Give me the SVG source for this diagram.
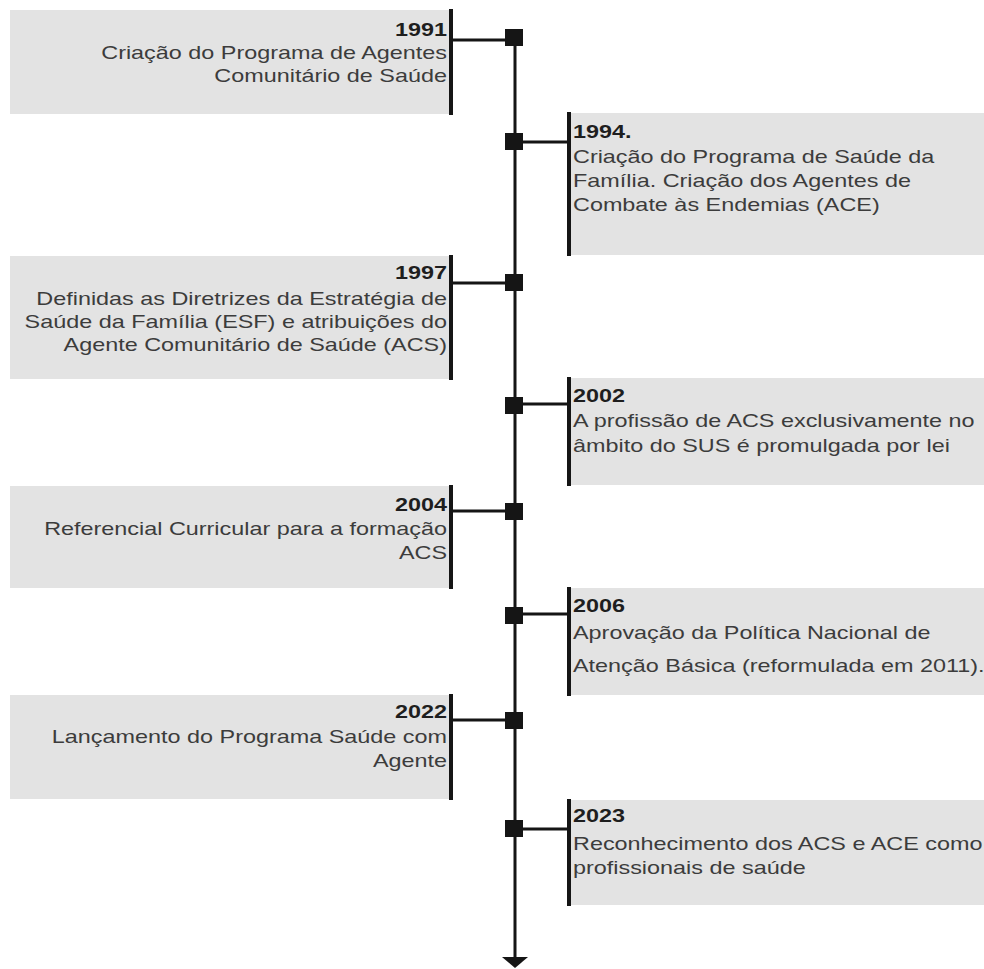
<svg xmlns="http://www.w3.org/2000/svg" width="984" height="969" viewBox="0 0 984 969">
<style>
.box{fill:#e3e3e3}
.bar{fill:#151515}
.conn{stroke:#151515;stroke-width:3;fill:none}
.mk{fill:#151515}
.yr{font-family:"Liberation Sans",Arial,sans-serif;font-size:18px;font-weight:bold;fill:#1e1e1e}
.tx{font-family:"Liberation Sans",Arial,sans-serif;font-size:18px;fill:#3c3c3c}
.l text{text-anchor:end}
</style>
<rect width="984" height="969" fill="#ffffff"/>
<g id="connectors">
<line class="conn" x1="515" y1="30" x2="515" y2="958"/>
<polygon class="mk" points="502,957 528,957 515,968"/>
<line class="conn" x1="451" y1="40" x2="514" y2="40"/>
<line class="conn" x1="514" y1="142" x2="569" y2="142"/>
<line class="conn" x1="451" y1="283" x2="514" y2="283"/>
<line class="conn" x1="514" y1="404" x2="569" y2="404"/>
<line class="conn" x1="451" y1="511" x2="514" y2="511"/>
<line class="conn" x1="514" y1="614" x2="569" y2="614"/>
<line class="conn" x1="451" y1="720" x2="514" y2="720"/>
<line class="conn" x1="514" y1="829" x2="569" y2="829"/>
</g>
<g id="n1991" class="l">
<rect class="box" x="10" y="10" width="441" height="104"/>
<rect class="bar" x="449" y="9" width="4" height="106"/>
<rect class="mk" x="505" y="29" width="18" height="17"/>
<g transform="translate(447,0) scale(1.3,1)">
<text class="yr" x="0" y="36">1991</text>
<text class="tx" x="0" y="59">Criação do Programa de Agentes</text>
<text class="tx" x="0" y="82">Comunitário de Saúde</text>
</g>
</g>
<g id="n1994">
<rect class="box" x="569" y="113" width="415" height="142"/>
<rect class="bar" x="567" y="112" width="4" height="144"/>
<rect class="mk" x="505" y="133" width="18" height="17"/>
<g transform="translate(573,0) scale(1.3,1)">
<text class="yr" x="0" y="138">1994.</text>
<text class="tx" x="0" y="163">Criação do Programa de Saúde da</text>
<text class="tx" x="0" y="187">Família. Criação dos Agentes de</text>
<text class="tx" x="0" y="211">Combate às Endemias (ACE)</text>
</g>
</g>
<g id="n1997" class="l">
<rect class="box" x="10" y="256" width="441" height="123"/>
<rect class="bar" x="449" y="255" width="4" height="125"/>
<rect class="mk" x="505" y="274" width="18" height="17"/>
<g transform="translate(447,0) scale(1.3,1)">
<text class="yr" x="0" y="279">1997</text>
<text class="tx" x="0" y="305">Definidas as Diretrizes da Estratégia de</text>
<text class="tx" x="0" y="328">Saúde da Família (ESF) e atribuições do</text>
<text class="tx" x="0" y="351">Agente Comunitário de Saúde (ACS)</text>
</g>
</g>
<g id="n2002">
<rect class="box" x="569" y="378" width="415" height="107"/>
<rect class="bar" x="567" y="377" width="4" height="109"/>
<rect class="mk" x="505" y="397" width="18" height="17"/>
<g transform="translate(573,0) scale(1.3,1)">
<text class="yr" x="0" y="402">2002</text>
<text class="tx" x="0" y="427">A profissão de ACS exclusivamente no</text>
<text class="tx" x="0" y="452">âmbito do SUS é promulgada por lei</text>
</g>
</g>
<g id="n2004" class="l">
<rect class="box" x="10" y="486" width="441" height="102"/>
<rect class="bar" x="449" y="485" width="4" height="104"/>
<rect class="mk" x="505" y="503" width="18" height="17"/>
<g transform="translate(447,0) scale(1.3,1)">
<text class="yr" x="0" y="511">2004</text>
<text class="tx" x="0" y="535">Referencial Curricular para a formação</text>
<text class="tx" x="0" y="559">ACS</text>
</g>
</g>
<g id="n2006">
<rect class="box" x="569" y="588" width="415" height="107"/>
<rect class="bar" x="567" y="587" width="4" height="109"/>
<rect class="mk" x="505" y="607" width="18" height="17"/>
<g transform="translate(573,0) scale(1.3,1)">
<text class="yr" x="0" y="612">2006</text>
<text class="tx" x="0" y="639">Aprovação da Política Nacional de</text>
<text class="tx" x="0" y="672">Atenção Básica (reformulada em 2011).</text>
</g>
</g>
<g id="n2022" class="l">
<rect class="box" x="10" y="695" width="441" height="104"/>
<rect class="bar" x="449" y="694" width="4" height="106"/>
<rect class="mk" x="505" y="712" width="18" height="17"/>
<g transform="translate(447,0) scale(1.3,1)">
<text class="yr" x="0" y="718">2022</text>
<text class="tx" x="0" y="743">Lançamento do Programa Saúde com</text>
<text class="tx" x="0" y="767">Agente</text>
</g>
</g>
<g id="n2023">
<rect class="box" x="569" y="800" width="415" height="105"/>
<rect class="bar" x="567" y="799" width="4" height="107"/>
<rect class="mk" x="505" y="820" width="18" height="17"/>
<g transform="translate(573,0) scale(1.3,1)">
<text class="yr" x="0" y="822">2023</text>
<text class="tx" x="0" y="850">Reconhecimento dos ACS e ACE como</text>
<text class="tx" x="0" y="874">profissionais de saúde</text>
</g>
</g>
</svg>
